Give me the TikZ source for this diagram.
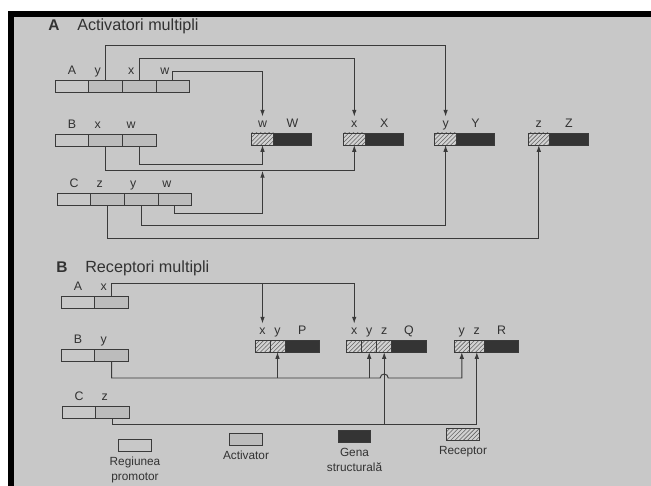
\documentclass[tikz,border=0pt]{standalone}
\usepackage{fontspec}
\setmainfont{Liberation Sans}
\usetikzlibrary{arrows.meta,positioning,patterns}
\definecolor{pagegray}{RGB}{200,200,200}
\definecolor{linegray}{RGB}{58,58,58}
\definecolor{actgray}{RGB}{188,188,188}
\definecolor{genedark}{RGB}{52,52,52}
\definecolor{recgray}{RGB}{210,210,210}
\definecolor{hatchgray}{RGB}{100,100,100}
\definecolor{inkgray}{RGB}{50,50,50}

\tikzset{
    cellbox/.style={draw=linegray, line width=0.6pt, minimum width=0.84cm,
        minimum height=0.3cm, inner sep=0pt, outer sep=0pt},
    promcell/.style={cellbox},
    actcell/.style={cellbox, fill=actgray},
    reccell/.style={cellbox, minimum width=0.54cm, preaction={fill=recgray},
        pattern=north east lines, pattern color=hatchgray},
    smallrec/.style={reccell, minimum width=0.375cm},
    genecell/.style={cellbox, fill=genedark, minimum width=0.96cm},
    lab/.style={font=\fontsize{8.8}{10}\selectfont, text=inkgray, inner sep=1pt,
        text height=6.4pt, text depth=0pt},
    wire/.style={draw=linegray, line width=0.7pt},
    conn/.style={wire, -{Latex[length=4.8pt,width=3.2pt]}},
    legtxt/.style={font=\fontsize{8.4}{10.5}\selectfont, text=inkgray,
        align=center, inner sep=1pt},
    titlelet/.style={font=\fontsize{11}{13}\selectfont\bfseries, text=inkgray, inner sep=0pt},
    titletxt/.style={font=\fontsize{11.5}{13}\selectfont, text=inkgray, inner sep=0pt,
        anchor=base west}
}

\begin{document}
\begin{tikzpicture}[x=0.025cm, y=-0.025cm]
    \useasboundingbox (0,0) rectangle (651,486);
    % photographed page
    \fill[white] (0,0) rectangle (651,486);
    \fill[black] (8,11) rectangle (651,486);
    \fill[pagegray] (14,17) rectangle (651,486);

    % ---- A: multiple activators ----
    \node[titlelet] (ta) at (54,25) {A};
    \node[titletxt] (tat) at (ta.base -| 77,0) {Activatori multipli};

    \node[promcell] (aa1) at (72,86) {};
    \node[actcell, right=0pt of aa1] (aa2) {};
    \node[actcell, right=0pt of aa2] (aa3) {};
    \node[actcell, right=0pt of aa3] (aa4) {};
    \node[lab, above=0.1cm of aa1] (laa1) {A};
    \foreach \c/\t in {aa2/y, aa3/x, aa4/w}
        \node[lab, above=0.1cm of \c, xshift=-0.2cm] (l\c) {\t};

    \node[promcell] (ab1) at (72,140) {};
    \node[actcell, right=0pt of ab1] (ab2) {};
    \node[actcell, right=0pt of ab2] (ab3) {};
    \node[lab, above=0.1cm of ab1] (lab1) {B};
    \foreach \c/\t in {ab2/x, ab3/w}
        \node[lab, above=0.1cm of \c, xshift=-0.2cm] (l\c) {\t};

    \node[promcell] (ac1) at (74,199.5) {};
    \node[actcell, right=0pt of ac1] (ac2) {};
    \node[actcell, right=0pt of ac2] (ac3) {};
    \node[actcell, right=0pt of ac3] (ac4) {};
    \node[lab, above=0.1cm of ac1] (lac1) {C};
    \foreach \c/\t in {ac2/z, ac3/y, ac4/w}
        \node[lab, above=0.1cm of \c, xshift=-0.2cm] (l\c) {\t};

    % target genes W X Y Z
    \foreach \n/\N/\x in {w/W/262.5, x/X/354.3, y/Y/445.6, z/Z/538.8} {
        \node[reccell] (r\n) at (\x,139) {};
        \node[genecell, right=0pt of r\n] (g\n) {};
        \node[lab, above=0.1cm of r\n] (l\n) {\n};
        \node[lab, above=0.1cm of g\n] (l\N) {\N};
    }

    \draw[conn] (aa2.north) -- (aa2.north |- 0,45) -| (ly.north);
    \draw[conn] (aa3.north) -- (aa3.north |- 0,58) -| (lx.north);
    \draw[conn] (aa4.north) -- (aa4.north |- 0,71) -| (lw.north);

    \draw[conn] (ab3.south) -- (ab3.south |- 0,164) -| (rw.south);
    \draw[conn] (ab2.south) -- (ab2.south |- 0,170) -| (rx.south);
    \coordinate (jw) at (rw.south |- 0,170);
    \draw[conn, shorten >=0.6pt] (ac4.south) -- (ac4.south |- 0,213) -| (jw);
    \draw[conn] (ac3.south) -- (ac3.south |- 0,225) -| (ry.south);
    \draw[conn] (ac2.south) -- (ac2.south |- 0,238) -| (rz.south);

    % ---- B: multiple receptors ----
    \node[titlelet] (tb) at (62,267) {B};
    \node[titletxt] (tbt) at (tb.base -| 85,0) {Receptori multipli};

    \node[promcell] (ba1) at (78,302) {};
    \node[actcell, right=0pt of ba1] (ba2) {};
    \node[lab, above=0.1cm of ba1] (lba1) {A};
    \node[lab, above=0.1cm of ba2, xshift=-0.2cm] (lba2) {x};

    \node[promcell] (bb1) at (78,355) {};
    \node[actcell, right=0pt of bb1] (bb2) {};
    \node[lab, above=0.1cm of bb1] (lbb1) {B};
    \node[lab, above=0.1cm of bb2, xshift=-0.2cm] (lbb2) {y};

    \node[promcell] (bc1) at (79,412) {};
    \node[actcell, right=0pt of bc1] (bc2) {};
    \node[lab, above=0.1cm of bc1] (lbc1) {C};
    \node[lab, above=0.1cm of bc2, xshift=-0.2cm] (lbc2) {z};

    % gene P
    \node[smallrec] (px) at (262.5,346) {};
    \node[smallrec, right=0pt of px] (py) {};
    \node[genecell, minimum width=0.86cm, right=0pt of py] (pg) {};
    % gene Q
    \node[smallrec] (qx) at (354.2,346) {};
    \node[smallrec, right=0pt of qx] (qy) {};
    \node[smallrec, right=0pt of qy] (qz) {};
    \node[genecell, minimum width=0.86cm, right=0pt of qz] (qg) {};
    % gene R
    \node[smallrec] (rry) at (461.8,346) {};
    \node[smallrec, right=0pt of rry] (rrz) {};
    \node[genecell, minimum width=0.86cm, right=0pt of rrz] (rg) {};

    \foreach \c/\t in {px/x, py/y, pg/P, qx/x, qy/y, qz/z, qg/Q, rry/y, rrz/z, rg/R}
        \node[lab, above=0.1cm of \c] (l\c) {\t};

    \coordinate (hx) at (ba2.north |- 0,283);
    \draw[conn] (ba2.north) -- (hx) -| (lqx.north);
    \draw[conn] (hx -| lpx.north) -- (lpx.north);

    \coordinate (hy) at (bb2.south |- 0,378);
    \coordinate (hop) at (hy -| qz.south);
    \draw[conn] (bb2.south) -- (hy) -- ([xshift=-0.1cm]hop)
        arc[start angle=180, end angle=0, radius=0.1cm] -| (rry.south);
    \draw[conn] (hy -| py.south) -- (py.south);
    \draw[conn] (hy -| qy.south) -- (qy.south);

    \coordinate (hz) at (bc2.south |- 0,424);
    \draw[conn] (bc2.south) -- (hz) -| (rrz.south);
    \draw[conn] (hz -| qz.south) -- (qz.south);

    % legend
    \node[promcell, minimum width=0.82cm] (kp) at (135,445.5) {};
    \node[legtxt, below=3pt of kp] (kpt) {Regiunea\\promotor};
    \node[actcell, minimum width=0.82cm] (ka) at (246,439.5) {};
    \node[legtxt, below=3pt of ka] (kat) {Activator};
    \node[genecell, minimum width=0.82cm] (kg) at (354.5,436.5) {};
    \node[legtxt, below=3pt of kg] (kgt) {Gena\\structurală};
    \node[reccell, minimum width=0.82cm] (kr) at (463,434) {};
    \node[legtxt, below=3pt of kr] (krt) {Receptor};
\end{tikzpicture}
\end{document}
